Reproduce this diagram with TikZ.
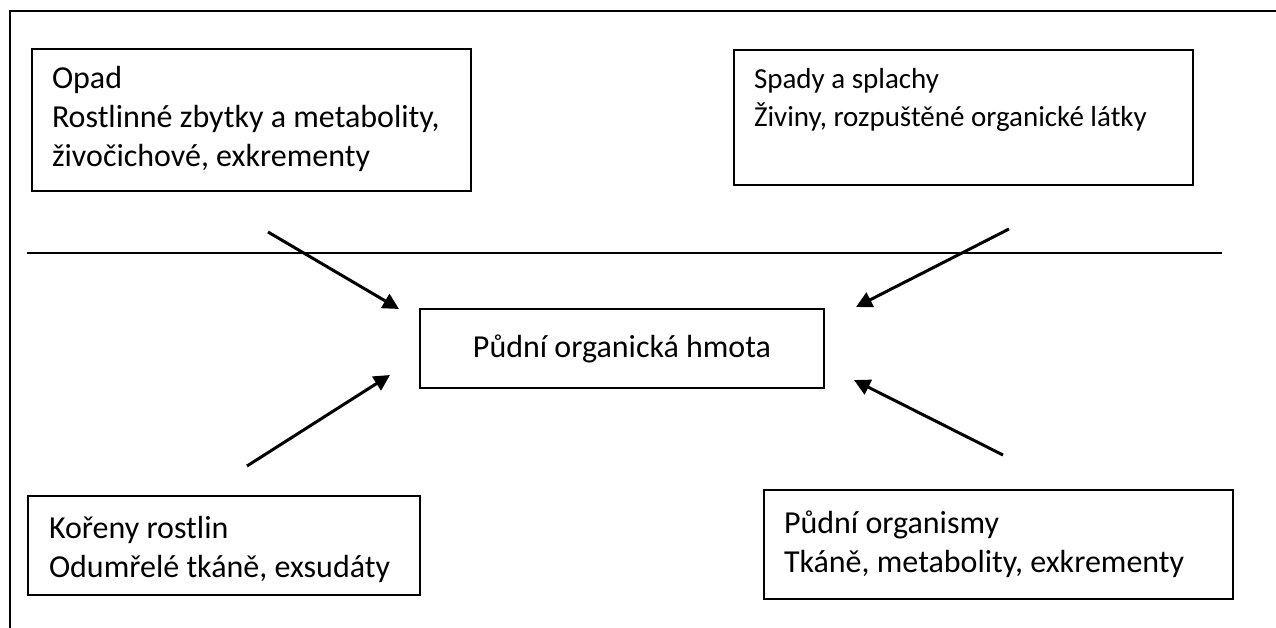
\documentclass[tikz,border=0pt]{standalone}
\usepackage{fontspec}
\setmainfont{Carlito}
\usetikzlibrary{arrows.meta}
\tikzset{
  srcbox/.style={draw, line width=2pt, anchor=north west, align=flush left, inner xsep=20pt, inner ysep=0pt, font=\fontsize{32}{39}\selectfont},
  flow/.style={line width=3pt, -{Triangle[length=16pt,width=16pt]}}
}
\begin{document}
\begin{tikzpicture}[x=1pt,y=-1pt]
        \useasboundingbox (0,0) rectangle (1276,628);
        \clip (0,0) rectangle (1276,628);

        % Frame
        \draw[line width=2.5pt] (1290,11) -- (10,11) -- (10,640);

        % Soil surface
        \draw[line width=1.5pt] (27,253) -- (1222,253);

        % Inputs
        \node[srcbox, text width=399pt, text height=40pt, text depth=102pt] (opad) at (31,48) {Opad\\Rostlinné zbytky a metabolity,\\živočichové, exkrementy};
        \node[srcbox, font=\fontsize{29}{38}\selectfont, text width=419pt, text height=39pt, text depth=96pt] (spady) at (733,49) {Spady a splachy\\Živiny, rozpuštěné organické látky};
        \node[srcbox, text width=350pt, inner xsep=21pt, text height=42pt, text depth=57pt] (koreny) at (27,495) {Kořeny rostlin\\Odumřelé tkáně, exsudáty};
        \node[srcbox, text width=429pt, text height=43pt, text depth=66pt] (organismy) at (763,489) {Půdní organismy\\Tkáně, metabolity, exkrementy};

        % Soil organic matter
        \node[draw, line width=2pt, minimum width=404pt, minimum height=79pt, font=\fontsize{32}{39}\selectfont] (hmota) at (622,348.5) {Půdní organická hmota};

        % Arrows
        \coordinate (opadtail) at (268,232);
        \coordinate (korenytail) at (247,466);
        \coordinate (spadytail) at (1009,229);
        \coordinate (organismytail) at (1003,455);
        \draw[flow] (opadtail) -- ([shift={(-20,1)}]hmota.north west);
        \draw[flow] (korenytail) -- ([shift={(-29,-14)}]hmota.south west);
        \draw[flow] (spadytail) -- ([shift={(31,-1)}]hmota.north east);
        \draw[flow] (organismytail) -- ([shift={(29,-9)}]hmota.south east);
      \end{tikzpicture}
\end{document}
